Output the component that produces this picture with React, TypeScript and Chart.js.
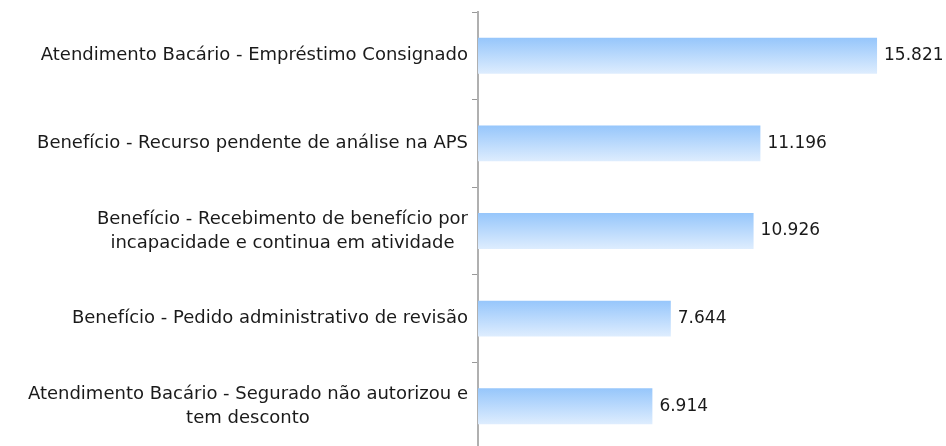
import React, { useEffect, useRef } from "react";
import { Chart, registerables } from "chart.js";

Chart.register(...registerables);

const categories: string[][] = [
  ["Atendimento Bacário - Empréstimo Consignado"],
  ["Benefício - Recurso pendente de análise na APS"],
  ["Benefício - Recebimento de benefício por", "incapacidade e continua em atividade"],
  ["Benefício - Pedido administrativo de revisão"],
  ["Atendimento Bacário - Segurado não autorizou e", "tem desconto"],
];

const values: number[] = [15821, 11196, 10926, 7644, 6914];

const formatValue = (v: number) =>
  Math.round(v).toString().replace(/\B(?=(\d{3})+(?!\d))/g, ".");

const LABEL_FONT = "18px 'DejaVu Sans', Verdana, sans-serif";
const VALUE_FONT = "17px 'DejaVu Sans', Verdana, sans-serif";
const TEXT_COLOR = "#1a1a1a";

const gradientPlugin = {
  id: "barGradient",
  beforeDatasetsDraw(chart: any) {
    const ctx = chart.ctx as CanvasRenderingContext2D;
    const meta = chart.getDatasetMeta(0);
    meta.data.forEach((el: any) => {
      const { y, height } = el.getProps(["y", "height"], true);
      const top = y - height / 2;
      const g = ctx.createLinearGradient(0, top, 0, top + height);
      g.addColorStop(0, "#96c6fb");
      g.addColorStop(1, "#deedfe");
      el.options = Object.assign({}, el.options, { backgroundColor: g });
    });
  },
};

const labelsPlugin = {
  id: "customLabels",
  afterDatasetsDraw(chart: any) {
    const ctx = chart.ctx as CanvasRenderingContext2D;
    const yScale = chart.scales.y;
    const meta = chart.getDatasetMeta(0);
    ctx.save();
    ctx.fillStyle = TEXT_COLOR;
    ctx.textBaseline = "middle";

    // category labels: block right-anchored, lines centered within block
    ctx.font = LABEL_FONT;
    ctx.textAlign = "center";
    const lineHeight = 24;
    const rightEdge = yScale.right - 10;
    categories.forEach((lines, i) => {
      const yc = yScale.getPixelForTick(i);
      const widest = Math.max(...lines.map((l) => ctx.measureText(l).width));
      const cx = rightEdge - widest / 2;
      const startY = yc - ((lines.length - 1) * lineHeight) / 2;
      lines.forEach((l, j) => ctx.fillText(l, cx, startY + j * lineHeight));
    });

    // value labels
    ctx.font = VALUE_FONT;
    ctx.textAlign = "left";
    meta.data.forEach((el: any, i: number) => {
      const { x, y } = el.getProps(["x", "y"], true);
      ctx.fillText(formatValue(values[i]), x + 7, y);
    });
    ctx.restore();
  },
};

export default function App() {
  const canvasRef = useRef<HTMLCanvasElement | null>(null);

  useEffect(() => {
    if (!canvasRef.current) return;
    const chart = new Chart(canvasRef.current, {
      type: "bar",
      data: {
        labels: categories.map((c) => c.join(" ")),
        datasets: [
          {
            data: values,
            backgroundColor: "#b8dafd",
            borderWidth: 0,
            barPercentage: 0.41,
            categoryPercentage: 1,
          },
        ],
      },
      options: {
        indexAxis: "y",
        responsive: false,
        animation: false,
        layout: { padding: { top: 12, right: 14, bottom: 0, left: 0 } },
        plugins: {
          legend: { display: false },
          tooltip: { enabled: false },
        },
        scales: {
          x: {
            display: false,
            min: 0,
            max: 18000,
          },
          y: {
            position: "left",
            afterFit: (scale: any) => {
              scale.width = 478;
            },
            ticks: { display: false },
            grid: {
              display: true,
              drawOnChartArea: false,
              drawTicks: true,
              tickLength: 6,
              color: "#999999",
              lineWidth: 1,
              offset: true,
            },
            border: { display: true, color: "#b0b0b0", width: 2 },
          },
        },
      },
      plugins: [gradientPlugin, labelsPlugin],
    });
    return () => chart.destroy();
  }, []);

  return (
    <div style={{ position: "fixed", left: 0, top: 0, width: 946, height: 450, background: "#fff" }}>
      <canvas ref={canvasRef} width={946} height={450} />
    </div>
  );
}
